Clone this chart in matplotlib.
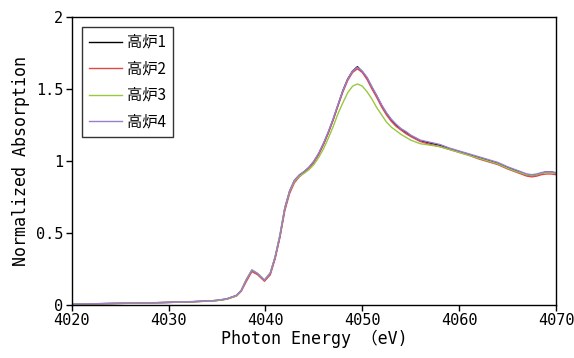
import matplotlib
matplotlib.use("Agg")
import matplotlib.pyplot as plt

energy = [4020, 4022, 4024, 4026, 4028, 4030, 4032, 4034, 4035, 4036,
          4037, 4037.5, 4038, 4038.6, 4039.2, 4039.9, 4040.5, 4041, 4041.5, 4042,
          4042.5, 4043, 4043.5, 4044, 4044.5, 4045, 4045.5, 4046, 4046.5, 4047,
          4047.5, 4048, 4048.5, 4049, 4049.5, 4050, 4050.5, 4051, 4051.5, 4052,
          4052.5, 4053, 4053.5, 4054, 4054.5, 4055, 4056, 4057, 4058, 4059,
          4060, 4061, 4062, 4063, 4064, 4065, 4066, 4067, 4067.5, 4068,
          4068.5, 4069, 4069.5, 4070]

furnace1 = [0.005, 0.008, 0.011, 0.012, 0.015, 0.018, 0.022, 0.027, 0.032, 0.042,
            0.066, 0.10, 0.17, 0.24, 0.215, 0.17, 0.22, 0.33, 0.48, 0.67,
            0.79, 0.865, 0.90, 0.925, 0.955, 0.995, 1.05, 1.12, 1.20, 1.29,
            1.39, 1.49, 1.57, 1.625, 1.655, 1.62, 1.575, 1.51, 1.45, 1.385,
            1.33, 1.285, 1.25, 1.22, 1.20, 1.175, 1.14, 1.125, 1.11, 1.085,
            1.065, 1.045, 1.025, 1.005, 0.985, 0.955, 0.93, 0.905, 0.90, 0.905,
            0.915, 0.925, 0.925, 0.915]

furnace2 = [0.004, 0.009, 0.010, 0.013, 0.014, 0.019, 0.021, 0.028, 0.031, 0.040,
            0.062, 0.095, 0.16, 0.232, 0.21, 0.165, 0.21, 0.32, 0.47, 0.655,
            0.775, 0.85, 0.89, 0.92, 0.95, 0.99, 1.045, 1.115, 1.195, 1.285,
            1.385, 1.48, 1.56, 1.615, 1.64, 1.615, 1.565, 1.50, 1.44, 1.375,
            1.32, 1.275, 1.24, 1.215, 1.19, 1.17, 1.135, 1.115, 1.10, 1.08,
            1.06, 1.04, 1.015, 0.995, 0.975, 0.945, 0.92, 0.895, 0.89, 0.895,
            0.905, 0.91, 0.91, 0.905]

furnace3 = [0.006, 0.008, 0.010, 0.013, 0.015, 0.017, 0.022, 0.026, 0.031, 0.041,
            0.064, 0.10, 0.175, 0.245, 0.22, 0.175, 0.225, 0.335, 0.49, 0.675,
            0.79, 0.86, 0.895, 0.915, 0.94, 0.975, 1.025, 1.085, 1.16, 1.24,
            1.33, 1.405, 1.475, 1.52, 1.535, 1.52, 1.48, 1.43, 1.37, 1.32,
            1.27, 1.235, 1.21, 1.185, 1.165, 1.145, 1.12, 1.11, 1.10, 1.08,
            1.06, 1.04, 1.02, 1.0, 0.98, 0.95, 0.925, 0.905, 0.90, 0.905,
            0.915, 0.92, 0.92, 0.915]

furnace4 = [0.006, 0.009, 0.010, 0.012, 0.016, 0.018, 0.023, 0.027, 0.033, 0.043,
            0.067, 0.102, 0.172, 0.242, 0.218, 0.172, 0.222, 0.335, 0.485, 0.675,
            0.795, 0.868, 0.905, 0.928, 0.958, 1.0, 1.055, 1.125, 1.205, 1.295,
            1.395, 1.49, 1.57, 1.625, 1.65, 1.625, 1.58, 1.515, 1.455, 1.39,
            1.335, 1.29, 1.255, 1.225, 1.205, 1.18, 1.145, 1.13, 1.115, 1.09,
            1.07, 1.05, 1.03, 1.01, 0.99, 0.96, 0.935, 0.91, 0.905, 0.91,
            0.92, 0.925, 0.925, 0.92]

series_names = ["高炉1", "高炉2", "高炉3", "高炉4"]
series_values = [furnace1, furnace2, furnace3, furnace4]
colors = ["#000000", "#e04848", "#99c840", "#9a7fcf"]

xticks = [4020, 4030, 4040, 4050, 4060, 4070]
yticks = [0, 0.5, 1, 1.5, 2]
ytick_labels = ["0", "0.5", "1", "1.5", "2"]

mono = ["DejaVu Sans Mono", "Noto Sans CJK JP"]
cjk = ["Noto Sans CJK JP", "DejaVu Sans"]

fig = plt.figure(figsize=(5.74, 3.58), dpi=100)
ax = fig.add_axes([0.125, 0.148, 0.8436, 0.8045])

for name, vals, c in zip(series_names, series_values, colors):
    ax.plot(energy, vals, color=c, lw=1.0, label=name)

ax.set_xlim(4020, 4070)
ax.set_ylim(0, 2)
ax.set_xticks(xticks)
ax.set_yticks(yticks)
ax.set_yticklabels(ytick_labels)
for lab in ax.get_xticklabels() + ax.get_yticklabels():
    lab.set_family(mono)
    lab.set_fontsize(11)
ax.tick_params(direction="out", length=4, width=1, color="black", pad=2)

for sp in ax.spines.values():
    sp.set_linewidth(1.0)
    sp.set_color("black")

ax.set_xlabel("Photon Energy （eV)", family=mono, fontsize=12, labelpad=1)
ax.set_ylabel("Normalized Absorption", family=mono, fontsize=12, labelpad=4)

leg = ax.legend(loc="upper left", bbox_to_anchor=(0.021, 0.965), borderaxespad=0,
                prop={"family": cjk, "size": 11}, frameon=True, fancybox=False,
                handlelength=2.2, handletextpad=0.3, labelspacing=0.62,
                borderpad=0.45)
leg.get_frame().set_edgecolor("black")
leg.get_frame().set_linewidth(1.0)

fig.savefig("out.png", dpi=100)
